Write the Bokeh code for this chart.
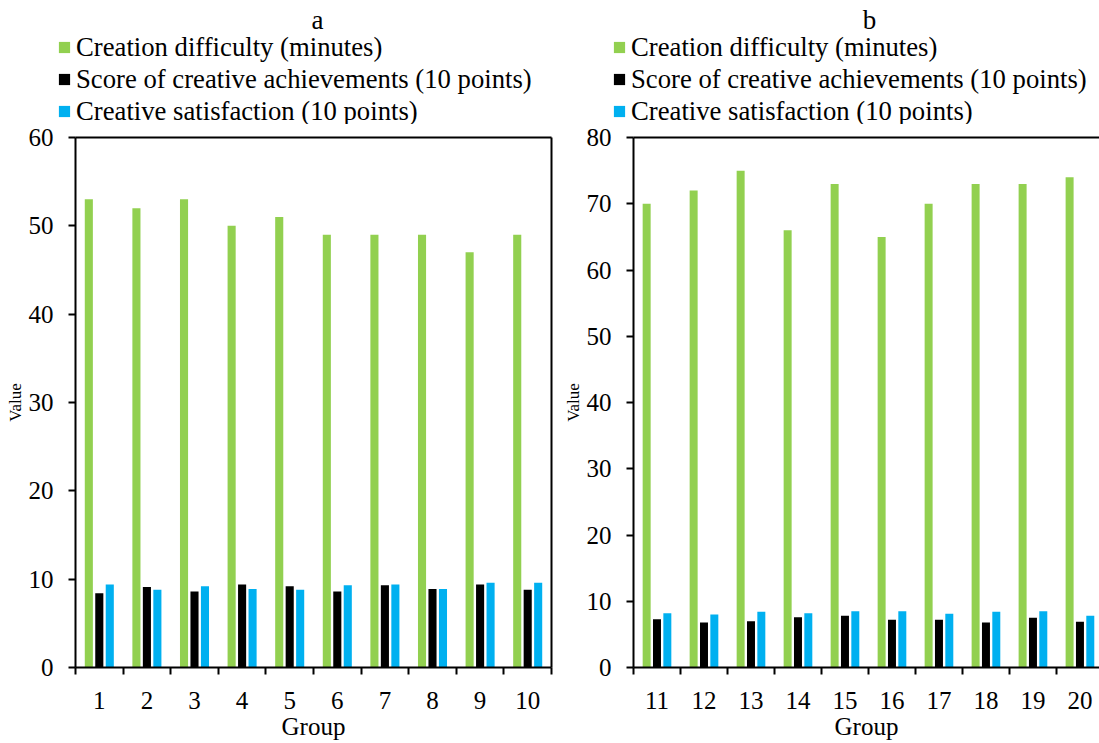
from bokeh.plotting import figure
from bokeh.models import (Range1d, FixedTicker, LinearAxis, Legend, LegendItem, Label,
                          ColumnDataSource)
from bokeh.layouts import row, column
from bokeh.transform import dodge
from bokeh.embed import file_html
from bokeh.resources import INLINE

# ---- data -------------------------------------------------------------
series_names = [
    "Creation difficulty (minutes)",
    "Score of creative achievements (10 points)",
    "Creative satisfaction (10 points)",
]
series_fields = ["difficulty", "achievement", "satisfaction"]
series_colors = ["#92D050", "#000000", "#00B0F0"]

groups_a = ["1", "2", "3", "4", "5", "6", "7", "8", "9", "10"]
difficulty_a = [53, 52, 53, 50, 51, 49, 49, 49, 47, 49]
achievement_a = [8.4, 9.1, 8.6, 9.4, 9.2, 8.6, 9.3, 8.9, 9.4, 8.8]
satisfaction_a = [9.4, 8.8, 9.2, 8.9, 8.8, 9.3, 9.4, 8.9, 9.6, 9.6]

groups_b = ["11", "12", "13", "14", "15", "16", "17", "18", "19", "20"]
difficulty_b = [70, 72, 75, 66, 73, 65, 70, 73, 73, 74]
achievement_b = [7.3, 6.8, 7.0, 7.6, 7.8, 7.2, 7.2, 6.8, 7.5, 6.9]
satisfaction_b = [8.2, 8.0, 8.4, 8.2, 8.5, 8.5, 8.1, 8.4, 8.5, 7.8]

FONT = "Liberation Serif"
TXT = "25px"
HEADER_H = 124
CHART_H = 743 - HEADER_H


def style_axis(ax):
    ax.axis_line_width = 2
    ax.axis_line_color = "black"
    ax.major_tick_line_width = 2
    ax.major_tick_line_color = "black"
    ax.major_tick_in = 0
    ax.major_tick_out = 7
    ax.minor_tick_line_color = None
    ax.major_label_text_font = FONT
    ax.major_label_text_font_size = TXT
    ax.major_label_text_color = "black"
    ax.axis_label_text_font = FONT
    ax.axis_label_text_font_style = "normal"
    ax.axis_label_text_color = "black"


def frame_line():
    # plain border line on the top / right side of the frame
    ax = LinearAxis(ticker=FixedTicker(ticks=[]))
    ax.axis_line_width = 2
    ax.axis_line_color = "black"
    ax.major_tick_line_color = None
    ax.minor_tick_line_color = None
    ax.major_tick_out = 0
    ax.major_tick_in = 0
    ax.major_label_standoff = 0
    return ax


def make_source(groups, difficulty, achievement, satisfaction):
    return ColumnDataSource(dict(
        x=list(range(1, len(groups) + 1)),
        difficulty=difficulty, achievement=achievement, satisfaction=satisfaction,
    ))


def make_header(label, src, width, legend_x, title_x):
    # title and legend band above each chart
    h = figure(width=width, height=HEADER_H, output_backend="svg", toolbar_location=None,
               x_range=Range1d(0, width), y_range=Range1d(0, HEADER_H),
               x_axis_type=None, y_axis_type=None, min_border=0)
    h.frame_align = False
    h.outline_line_color = None
    h.background_fill_color = "white"
    # hidden copies of the bar series, used only as legend swatches
    swatches = []
    for fld, col in zip(series_fields, series_colors):
        r = h.vbar(x="x", top=fld, width=0.17, source=src, fill_color=col, line_color=None)
        r.visible = False
        swatches.append(r)
    legend = Legend(
        items=[LegendItem(label=n, renderers=[r]) for n, r in zip(series_names, swatches)],
        location=(legend_x, -3), orientation="vertical",
        glyph_width=14, glyph_height=14, label_standoff=5,
        label_text_font=FONT, label_text_font_size="26.7px", label_text_color="black",
        label_height=32, spacing=0, padding=0, margin=0,
        border_line_color=None, background_fill_alpha=0, inactive_fill_alpha=0,
    )
    h.add_layout(legend, "center")
    h.add_layout(Label(x=title_x, y=HEADER_H - 19, x_units="screen", y_units="screen",
                       text=label, text_align="center", text_baseline="alphabetic",
                       text_font=FONT, text_font_size="27px", text_color="black"))
    return h


def make_chart(groups, src, ymax, width, border_left, border_right, x_end, box_right):
    pos = list(range(1, len(groups) + 1))
    p = figure(width=width, height=CHART_H, output_backend="svg", toolbar_location=None,
               x_range=Range1d(0.5, x_end), y_range=Range1d(0, ymax),
               min_border_left=border_left, min_border_right=border_right,
               min_border_bottom=76, min_border_top=137 - HEADER_H)
    p.frame_align = False
    p.grid.visible = False
    p.outline_line_color = None
    p.background_fill_color = "white"

    offsets = [-0.22, 0.0, 0.22]
    for off, fld, col in zip(offsets, series_fields, series_colors):
        p.vbar(x=dodge("x", off), top=fld, width=0.17, bottom=0, source=src,
               fill_color=col, line_color=None)

    # y axis
    style_axis(p.yaxis[0])
    p.yaxis.ticker = FixedTicker(ticks=list(range(0, ymax + 1, 10)))
    p.yaxis.major_label_standoff = 15
    p.yaxis.axis_label = "Value"
    p.yaxis.axis_label_text_font_size = "17px"
    p.yaxis.axis_label_standoff = 1

    # x axis: labels centred on groups, ticks on group boundaries
    style_axis(p.xaxis[0])
    p.xaxis.ticker = FixedTicker(ticks=pos, minor_ticks=[v - 0.5 for v in pos] + [pos[-1] + 0.5])
    p.xaxis.major_label_overrides = {v: g for v, g in zip(pos, groups)}
    p.xaxis.major_tick_line_color = None
    p.xaxis.minor_tick_line_color = "black"
    p.xaxis.minor_tick_line_width = 2
    p.xaxis.minor_tick_in = 0
    p.xaxis.minor_tick_out = 7
    p.xaxis.major_label_standoff = 17
    p.xaxis.axis_label = "Group"
    p.xaxis.axis_label_text_font_size = TXT
    p.xaxis.axis_label_standoff = 1

    p.add_layout(frame_line(), "above")
    if box_right:
        p.add_layout(frame_line(), "right")
    return p


src_a = make_source(groups_a, difficulty_a, achievement_a, satisfaction_a)
src_b = make_source(groups_b, difficulty_b, achievement_b, satisfaction_b)

ha = make_header("a", src_a, 560, 57, 317)
pa = make_chart(groups_a, src_a, 60, 560, 75, 9, 10.5, True)
hb = make_header("b", src_b, 539, 52, 309)
pb = make_chart(groups_b, src_b, 80, 539, 67, 0, 0.5 + 472 / 47.6, False)

layout = row(column(ha, pa), column(hb, pb))
open("out.html", "w").write(file_html(layout, INLINE))
